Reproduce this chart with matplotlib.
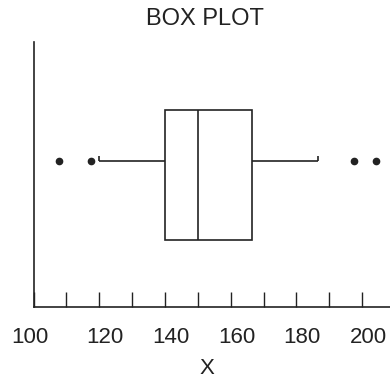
import matplotlib.pyplot as plt
import matplotlib.transforms as mtransforms
from matplotlib.patches import Rectangle

plt.rcParams['font.family'] = ['Liberation Sans', 'DejaVu Sans']

# five-number summary + outliers
q1 = 140
median = 150
q3 = 166.5
whisker_lo = 120
whisker_hi = 186.5
outliers = [107.8, 117.4, 197.6, 204.2]

label_values = [100, 120, 140, 160, 180, 200]
minor_values = [110, 130, 150, 170, 190]

ink = "#222222"

fig = plt.figure(figsize=(3.9, 3.8), dpi=100)
ax = fig.add_axes([33.5 / 390, 1 - 307 / 380, 1 - 33.5 / 390, (307 - 42) / 380])

# box layout (vertical positions in axes units 0..1)
box_lo, box_hi = 0.251, 0.745
whisker_y = 0.55
cap_h = 0.02

ax.add_patch(Rectangle((q1, box_lo), q3 - q1, box_hi - box_lo,
                       fill=False, edgecolor=ink, linewidth=1.2))
ax.vlines(median, box_lo, box_hi, color=ink, linewidth=1.2)
ax.hlines([whisker_y, whisker_y], [whisker_lo, q3], [q1, whisker_hi], color=ink, linewidth=1.2)
ax.vlines([whisker_lo, whisker_hi], whisker_y, whisker_y + cap_h, color=ink, linewidth=1.2)
ax.plot(outliers, [whisker_y] * len(outliers), 'o', color=ink, markersize=4.5)

ax.set_xlim(100, 208.5)
ax.set_ylim(0, 1)

for side in ['top', 'right']:
    ax.spines[side].set_visible(False)
for side in ['left', 'bottom']:
    ax.spines[side].set_color(ink)
    ax.spines[side].set_linewidth(1.2)

ax.set_yticks([])
ax.set_xticks(label_values)
ax.set_xticklabels([str(v) for v in label_values])
ax.set_xticks(minor_values, minor=True)
ax.tick_params(axis='x', which='both', direction='in', length=11, width=1.0,
               color=ink, pad=14.5, labelsize=16, labelcolor=ink)

# labels sit a little right of their ticks in the original
for v, lab in zip(label_values, ax.get_xticklabels()):
    dx = -3.5 if v == 100 else 6
    lab.set_transform(lab.get_transform() + mtransforms.ScaledTranslation(dx / 100, 0, fig.dpi_scale_trans))

ax.set_xlabel("X", fontsize=16, color=ink, labelpad=7, x=0.487)
ax.set_title("BOX PLOT", fontsize=17, color=ink, pad=12, x=0.482)

fig.savefig("out.png", dpi=100)
